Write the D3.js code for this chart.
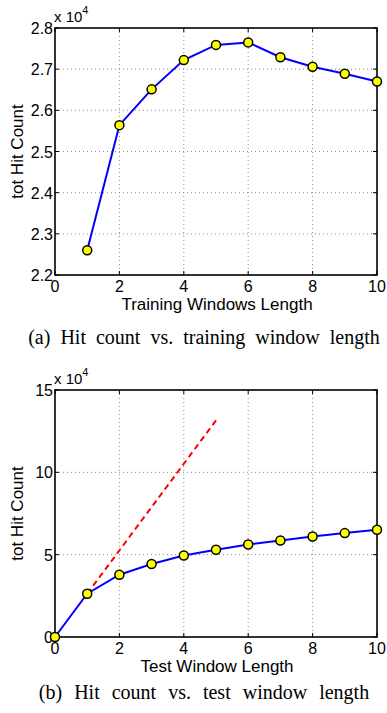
<!DOCTYPE html>
<html>
<head>
<meta charset="utf-8">
<script src="https://cdn.jsdelivr.net/npm/d3@7"></script>
<style>
  body { margin: 0; background: #fff; }
  svg { display: block; }
  .tick-label { font-family: "Liberation Sans", Arial, sans-serif; font-size: 16px; fill: #000; }
  .axis-title { font-family: "Liberation Sans", Arial, sans-serif; font-size: 17px; fill: #000; }
  .expo { font-family: "Liberation Sans", Arial, sans-serif; font-size: 15px; fill: #000; }
  .caption { font-family: "Liberation Serif", "Times New Roman", serif; font-size: 20px; fill: #000; }
</style>
</head>
<body>
<div id="chart"></div>
<script>
var WIDTH = 387, HEIGHT = 713;

// (a) training window length
var trainX = [1, 2, 3, 4, 5, 6, 7, 8, 9, 10];
var trainHits = [22600, 25640, 26510, 27220, 27590, 27650, 27290, 27060, 26890, 26700];
var trainYTicks = [22000, 23000, 24000, 25000, 26000, 27000, 28000];

// (b) test window length
var testX = [0, 1, 2, 3, 4, 5, 6, 7, 8, 9, 10];
var testHits = [0, 26300, 37800, 44300, 49500, 53000, 56200, 58600, 61000, 63100, 65100];
var linearX = [1, 5];
var linearHits = [26300, 131500];
var testYTicks = [0, 50000, 100000, 150000];

var xTicks = [0, 2, 4, 6, 8, 10];

var svg = d3.select("#chart")
    .append("svg")
        .attr("width", WIDTH)
        .attr("height", HEIGHT);

/**
 * Draws one MATLAB-style panel
 */
function drawPanel(opts){
    var g = svg.append("g");
    var left = 55, right = 377;

    var x = d3.scaleLinear().domain([0, 10]).range([left, right]);
    var y = d3.scaleLinear().domain(opts.yDomain).range([opts.bottom, opts.top]);

    /* Grid */
    g.selectAll(".gx").data(xTicks.slice(1, -1)).enter()
        .append("line")
            .attr("x1", function(d){ return x(d); })
            .attr("x2", function(d){ return x(d); })
            .attr("y1", opts.top).attr("y2", opts.bottom)
            .attr("stroke", "#8a8a8a").attr("stroke-width", 1)
            .attr("stroke-dasharray", "1,3");
    g.selectAll(".gy").data(opts.yTicks.slice(1, -1)).enter()
        .append("line")
            .attr("x1", left).attr("x2", right)
            .attr("y1", function(d){ return y(d); })
            .attr("y2", function(d){ return y(d); })
            .attr("stroke", "#8a8a8a").attr("stroke-width", 1)
            .attr("stroke-dasharray", "1,3");

    /* Inward ticks on all four sides */
    var tl = 4;
    xTicks.forEach(function(d){
        g.append("line").attr("x1", x(d)).attr("x2", x(d))
            .attr("y1", opts.bottom).attr("y2", opts.bottom - tl).attr("stroke", "#000");
        g.append("line").attr("x1", x(d)).attr("x2", x(d))
            .attr("y1", opts.top).attr("y2", opts.top + tl).attr("stroke", "#000");
    });
    opts.yTicks.forEach(function(d){
        g.append("line").attr("x1", left).attr("x2", left + tl)
            .attr("y1", y(d)).attr("y2", y(d)).attr("stroke", "#000");
        g.append("line").attr("x1", right).attr("x2", right - tl)
            .attr("y1", y(d)).attr("y2", y(d)).attr("stroke", "#000");
    });

    /* Box */
    g.append("rect")
        .attr("x", left).attr("y", opts.top)
        .attr("width", right - left).attr("height", opts.bottom - opts.top)
        .attr("fill", "none").attr("stroke", "#000").attr("stroke-width", 1.6);

    /* Tick labels */
    g.selectAll(".xl").data(xTicks).enter()
        .append("text")
            .attr("class", "tick-label")
            .attr("x", function(d){ return x(d); })
            .attr("y", opts.bottom + 17)
            .attr("text-anchor", "middle")
            .text(function(d){ return d; });
    g.selectAll(".yl").data(opts.yTicks).enter()
        .append("text")
            .attr("class", "tick-label")
            .attr("x", left - 2)
            .attr("y", function(d){ return y(d) + 6; })
            .attr("text-anchor", "end")
            .text(function(d){ return opts.fmt(d / 1e4); });

    // exponent
    var ex = g.append("text").attr("class", "expo")
        .attr("x", left - 1).attr("y", opts.top - 6);
    ex.append("tspan").text("x 10");
    ex.append("tspan").attr("dy", -8).style("font-size", "11px").text("4");

    /* Axis titles */
    g.append("text")
        .attr("class", "axis-title")
        .attr("x", (left + right) / 2 + 1)
        .attr("y", opts.bottom + 35)
        .attr("text-anchor", "middle")
        .text(opts.xTitle);
    g.append("text")
        .attr("class", "axis-title")
        .attr("transform", "translate(23," + ((opts.top + opts.bottom) / 2) + ") rotate(-90)")
        .attr("text-anchor", "middle")
        .text("tot Hit Count");

    /* Lines */
    var line = d3.line()
        .x(function(d){ return x(d[0]); })
        .y(function(d){ return y(d[1]); });

    if (opts.dashX) {
        g.append("path")
            .datum(d3.zip(opts.dashX, opts.dashY))
            .attr("d", line)
            .attr("fill", "none")
            .attr("stroke", "#ff0000")
            .attr("stroke-width", 2)
            .attr("stroke-dasharray", "6,4");
    }

    var pts = d3.zip(opts.xs, opts.ys);
    g.append("path")
        .datum(pts)
        .attr("d", line)
        .attr("fill", "none")
        .attr("stroke", "#0000ff")
        .attr("stroke-width", 2);

    g.selectAll(".pt").data(pts).enter()
        .append("circle")
            .attr("cx", function(d){ return x(d[0]); })
            .attr("cy", function(d){ return y(d[1]); })
            .attr("r", 4.5)
            .attr("fill", "#ffff00")
            .attr("stroke", "#000")
            .attr("stroke-width", 1.5);

    /* Caption */
    g.append("text")
        .attr("class", "caption")
        .attr("x", 204)
        .attr("y", opts.captionY)
        .attr("text-anchor", "middle")
        .attr("word-spacing", opts.wordSpacing + "px")
        .text(opts.caption);
}

drawPanel({
    top: 28, bottom: 275,
    yDomain: [22000, 28000], yTicks: trainYTicks,
    fmt: d3.format(".1f"),
    xs: trainX, ys: trainHits,
    xTitle: "Training Windows Length",
    caption: "(a) Hit count vs. training window length",
    captionY: 344, wordSpacing: 5
});

drawPanel({
    top: 390, bottom: 637,
    yDomain: [0, 150000], yTicks: testYTicks,
    fmt: d3.format("d"),
    xs: testX, ys: testHits,
    dashX: linearX, dashY: linearHits,
    xTitle: "Test Window Length",
    caption: "(b) Hit count vs. test window length",
    captionY: 699, wordSpacing: 7
});
</script>
</body>
</html>
